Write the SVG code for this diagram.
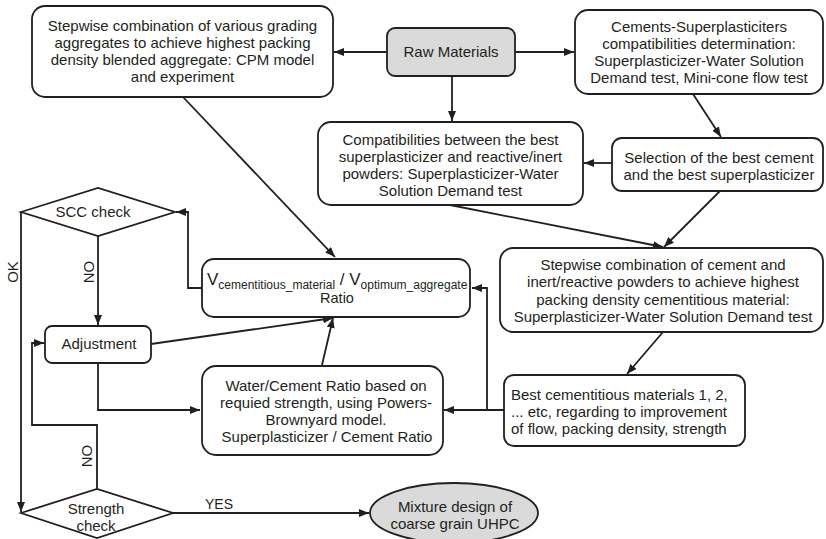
<svg xmlns="http://www.w3.org/2000/svg" width="826" height="539" viewBox="0 0 826 539">
<defs>
<style>
.box{fill:#ffffff;stroke:#231f20;stroke-width:1.8}
.gray{fill:#dadada;stroke:#231f20;stroke-width:1.8}
.t{font-family:"Liberation Sans",Arial,sans-serif;font-size:15px;fill:#231f20;text-anchor:middle}
.l{text-anchor:start}
.c{fill:none;stroke:#231f20;stroke-width:1.8;marker-end:url(#ah)}
.n{fill:none;stroke:#231f20;stroke-width:1.8}
</style>
<marker id="ah" markerUnits="userSpaceOnUse" markerWidth="11" markerHeight="8" refX="10" refY="4" orient="auto">
<path d="M0,0 L10,4 L0,8 z" fill="#231f20"/>
</marker>
</defs>
<rect width="826" height="539" fill="#ffffff"/>

<g id="connectors">
<line class="c" x1="387" y1="52" x2="334" y2="52"/>
<line class="c" x1="515" y1="52" x2="574" y2="52"/>
<line class="c" x1="452" y1="76" x2="452" y2="121"/>
<line class="c" x1="693" y1="94" x2="721" y2="137"/>
<line class="c" x1="612" y1="163" x2="584" y2="163"/>
<line class="c" x1="450" y1="205" x2="663" y2="247"/>
<line class="c" x1="720" y1="191" x2="664" y2="247"/>
<line class="c" x1="663" y1="332" x2="627" y2="374"/>
<line class="c" x1="504" y1="410" x2="444" y2="410"/>
<polyline class="c" points="487,410 487,288 472,288"/>
<line class="c" x1="183" y1="97" x2="335" y2="257"/>
<polyline class="c" points="202,288 188,288 188,212 176,212"/>
<line class="c" x1="98" y1="236" x2="98" y2="325"/>
<line class="c" x1="151" y1="344" x2="333" y2="318"/>
<line class="c" x1="322" y1="365" x2="333" y2="318"/>
<polyline class="c" points="98,363 98,410 200,410"/>
<line class="c" x1="21" y1="212" x2="21" y2="512"/>
<polyline class="c" points="97,489 97,425 32,425 32,343 44,343"/>
<line class="c" x1="173" y1="513" x2="369" y2="513"/>
<text class="t" transform="translate(18,272) rotate(-90)">OK</text>
<text class="t" transform="translate(94,272) rotate(-90)">NO</text>
<text class="t" transform="translate(92,456) rotate(-90)">NO</text>
<text class="t" x="219" y="509" style="font-size:14px">YES</text>
</g>

<g id="aggregate">
<rect class="box" x="32" y="6" width="301" height="91" rx="13"/>
<text class="t" x="182.5" y="31">Stepwise combination of various grading</text>
<text class="t" x="182.5" y="48">aggregates to achieve highest packing</text>
<text class="t" x="182.5" y="65">density blended aggregate: CPM model</text>
<text class="t" x="182.5" y="82">and experiment</text>
</g>

<g id="raw">
<rect class="gray" x="387" y="28" width="128" height="48" rx="8"/>
<text class="t" x="451" y="57">Raw Materials</text>
</g>

<g id="cement-sp">
<rect class="box" x="575" y="10" width="248" height="84" rx="13"/>
<text class="t" x="699" y="32">Cements-Superplasticiters</text>
<text class="t" x="699" y="49">compatibilities determination:</text>
<text class="t" x="699" y="66">Superplasticizer-Water Solution</text>
<text class="t" x="699" y="83">Demand test, Mini-cone flow test</text>
</g>

<g id="compat">
<rect class="box" x="318" y="122" width="265" height="83" rx="13"/>
<text class="t" x="450.5" y="145">Compatibilities between the best</text>
<text class="t" x="450.5" y="162">superplasticizer and reactive/inert</text>
<text class="t" x="450.5" y="179">powders: Superplasticizer-Water</text>
<text class="t" x="450.5" y="196">Solution Demand test</text>
</g>

<g id="selection">
<rect class="box" x="612" y="138" width="211" height="53" rx="10"/>
<text class="t" x="719" y="163">Selection of the best cement</text>
<text class="t" x="719" y="180">and the best superplasticizer</text>
</g>

<g id="stepwise-cement">
<rect class="box" x="500" y="248" width="323" height="84" rx="13"/>
<text class="t" x="663" y="270">Stepwise combination of cement and</text>
<text class="t" x="663" y="287">inert/reactive powders to achieve highest</text>
<text class="t" x="663" y="305">packing density cementitious material:</text>
<text class="t" x="663" y="322">Superplasticizer-Water Solution Demand test</text>
</g>

<g id="best">
<rect class="box" x="504" y="375" width="241" height="71" rx="10"/>
<text class="t l" x="511" y="400">Best cementitious materials 1, 2,</text>
<text class="t l" x="511" y="417">... etc, regarding to improvement</text>
<text class="t l" x="511" y="434">of flow, packing density, strength</text>
</g>

<g id="ratio">
<rect class="box" x="202" y="259" width="268" height="58" rx="12"/>
<text class="t l" x="207" y="285" style="font-size:17px">V<tspan dy="4" style="font-size:12px">cementitious_material</tspan><tspan dy="-4"> / V</tspan><tspan dy="4" style="font-size:12px">optimum_aggregate</tspan></text>
<text class="t" x="337" y="303" style="font-size:14.5px">Ratio</text>
</g>

<g id="scc">
<polygon class="box" points="21,212 98,188 175,212 98,236"/>
<text class="t" x="93" y="217">SCC check</text>
</g>

<g id="adjustment">
<rect class="box" x="45" y="326" width="106" height="37" rx="7"/>
<text class="t" x="99" y="349">Adjustment</text>
</g>

<g id="wc">
<rect class="box" x="202" y="366" width="241" height="89" rx="14"/>
<text class="t" x="326" y="391">Water/Cement Ratio based on</text>
<text class="t" x="326" y="408">requied strength, using Powers-</text>
<text class="t" x="326" y="425">Brownyard model.</text>
<text class="t" x="327" y="442">Superplasticizer / Cement Ratio</text>
</g>

<g id="strength">
<polygon class="box" points="21,513 97,489 173,513 97,538"/>
<text class="t" x="96" y="514">Strength</text>
<text class="t" x="96" y="531">check</text>
</g>

<g id="mixture">
<ellipse class="gray" cx="454" cy="513" rx="84" ry="30"/>
<text class="t" x="455" y="512">Mixture design of</text>
<text class="t" x="455" y="529">coarse grain UHPC</text>
</g>
</svg>
